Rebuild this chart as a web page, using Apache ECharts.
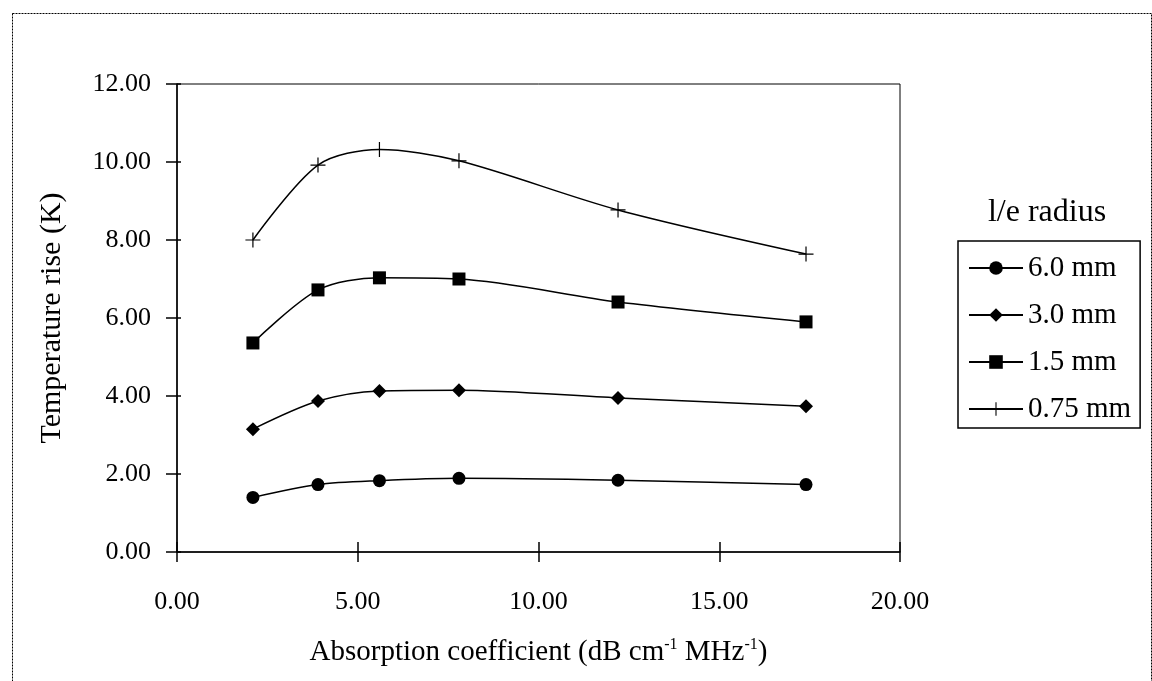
<!DOCTYPE html>
<html>
<head>
<meta charset="utf-8">
<script src="https://cdn.jsdelivr.net/npm/echarts@6/dist/echarts.min.js"></script>
<style>
  html, body { margin: 0; padding: 0; background: #fff; }
  #main { width: 1152px; height: 681px; }
</style>
</head>
<body>
<div id="main"></div>
<script>
	// absorption coefficient (dB cm-1 MHz-1)
	let absorption = [2.1, 3.9, 5.6, 7.8, 12.2, 17.4];
	let names = ['6.0 mm', '3.0 mm', '1.5 mm', '0.75 mm'];
	let rise60 = [1.40, 1.73, 1.83, 1.89, 1.84, 1.73];
	let rise30 = [3.15, 3.87, 4.13, 4.15, 3.95, 3.74];
	let rise15 = [5.36, 6.72, 7.03, 7.00, 6.41, 5.90];
	let rise075 = [8.00, 9.92, 10.32, 10.03, 8.77, 7.64];

	let font = 'Liberation Serif';
	let plus = 'path://M-0.08,-1H0.08V-0.08H1V0.08H0.08V1H-0.08V0.08H-1V-0.08H-0.08Z';

	function pairs(ys){
		return absorption.map(function(x, i){ return [x, ys[i]]; });
	}

	function line(name, ys, symbol, size){
		return {
			name: name,
			type: 'line',
			smooth: 0.3,
			data: pairs(ys),
			symbol: symbol,
			symbolSize: size,
			showAllSymbol: true,
			lineStyle: { color: '#000', width: 1.5 },
			itemStyle: { color: '#000' }
		};
	}

	var myChart = echarts.init(document.getElementById('main'));

	var option = {
		animation: false,
		backgroundColor: '#fff',
		textStyle: { fontFamily: font, color: '#000' },
		grid: {
			left: 177, right: 252, top: 84, bottom: 129,
			show: true, borderColor: '#000', borderWidth: 1
		},
		xAxis: [
			{
				type: 'value', min: 0, max: 20, interval: 5,
				name: '{t|Absorption coefficient (dB cm}{s|-1}{t| MHz}{s|-1}{t|)}',
				nameLocation: 'middle', nameGap: 85,
				nameTextStyle: {
					rich: {
						t: { fontFamily: font, fontSize: 29, color: '#000' },
						s: { fontFamily: font, fontSize: 16, color: '#000', verticalAlign: 'top', padding: [0, 0, 14, 0] }
					}
				},
				axisLine: { lineStyle: { color: '#000', width: 1.5 } },
				axisTick: { length: 10, lineStyle: { color: '#000', width: 1.5 } },
				splitLine: { show: false },
				axisLabel: {
					fontFamily: font, fontSize: 26, color: '#000', margin: 37,
					formatter: function(v){ return v.toFixed(2); }
				}
			},
			{
				type: 'value', min: 0, max: 20, interval: 5, position: 'bottom',
				axisLine: { show: false },
				axisTick: { inside: true, length: 10, lineStyle: { color: '#000', width: 1.5 } },
				axisLabel: { show: false },
				splitLine: { show: false }
			}
		],
		yAxis: [
			{
				type: 'value', min: 0, max: 12, interval: 2,
				name: 'Temperature rise (K)',
				nameLocation: 'middle', nameGap: 110,
				nameTextStyle: { fontFamily: font, fontSize: 30, color: '#000' },
				axisLine: { show: true, lineStyle: { color: '#000', width: 1.5 } },
				axisTick: { show: true, length: 11, lineStyle: { color: '#000', width: 1.5 } },
				splitLine: { show: false },
				axisLabel: {
					fontFamily: font, fontSize: 26, color: '#000', margin: 26,
					formatter: function(v){ return v.toFixed(2); }
				}
			},
			{
				type: 'value', min: 0, max: 12, interval: 2, position: 'left',
				axisLine: { show: false },
				axisTick: { show: true, inside: true, length: 4, lineStyle: { color: '#000', width: 1.5 } },
				axisLabel: { show: false },
				splitLine: { show: false }
			}
		],
		legend: {
			data: names,
			orient: 'vertical',
			left: 958, top: 241,
			itemWidth: 54, itemHeight: 17, itemGap: 17,
			padding: [12, 9, 4, 10],
			borderColor: '#000', borderWidth: 1.5,
			textStyle: { fontFamily: font, fontSize: 29, color: '#000', lineHeight: 30 }
		},
		graphic: [
			{
				type: 'text', x: 1047, y: 213,
				style: { text: 'l/e radius', font: '32px "Liberation Serif"', fill: '#000', align: 'center', verticalAlign: 'middle' }
			},
			{
				type: 'rect', left: 10, top: 11,
				shape: { width: 1139, height: 668 },
				style: { fill: 'none', stroke: '#000', lineWidth: 1, lineDash: [2, 1] }
			}
		],
		series: [
			line(names[0], rise60, 'circle', 13),
			line(names[1], rise30, 'diamond', 14),
			line(names[2], rise15, 'rect', 13),
			line(names[3], rise075, plus, 15)
		]
	};

	myChart.setOption(option);
</script>
</body>
</html>
